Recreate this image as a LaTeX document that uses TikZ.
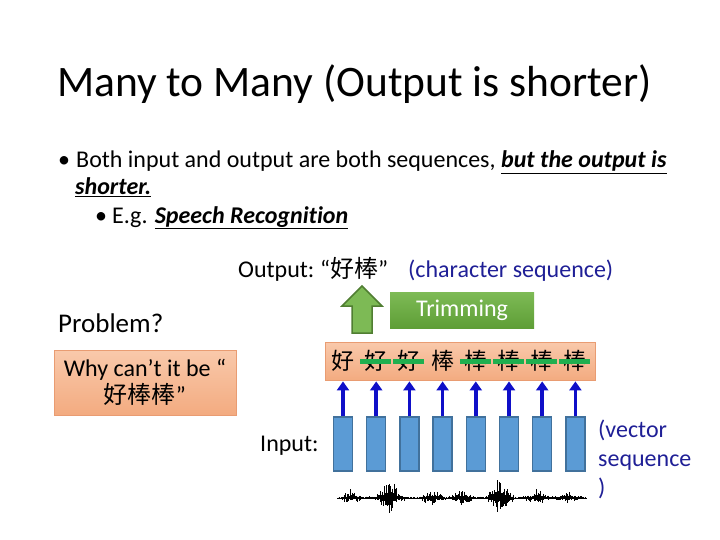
\documentclass[tikz,border=0pt]{standalone}
\usepackage{fontspec}
\setmainfont{Carlito}[Ligatures=NoCommon]
\newfontfamily\cjk{Noto Sans CJK TC}
\usetikzlibrary{arrows.meta}
\definecolor{navytxt}{RGB}{31,31,150}
\definecolor{seqtop}{HTML}{F9C9AB}
\definecolor{seqbot}{HTML}{F3AB80}
\definecolor{seqline}{HTML}{E99C72}
\definecolor{trimtop}{HTML}{7DBA55}
\definecolor{trimbot}{HTML}{5E9E36}
\definecolor{trimline}{HTML}{507E32}
\definecolor{vecfill}{HTML}{5B9BD5}
\definecolor{vecline}{HTML}{41719C}
\definecolor{upblue}{RGB}{15,15,200}
\definecolor{cutgreen}{HTML}{1FAF4F}

\begin{document}
\begin{tikzpicture}[x=1pt,y=-1pt,
    txt/.style={anchor=base west,inner sep=0pt,font=\fontsize{24}{28}\selectfont},
    orangebox/.style={draw=seqline,line width=0.8pt,top color=seqtop,bottom color=seqbot,inner sep=0pt},
    vecbox/.style={draw=vecline,line width=1.5pt,fill=vecfill,minimum width=19pt,minimum height=54pt,inner sep=0pt},
    uparrow/.style={-{Triangle[width=12pt,length=9pt]},line width=3.5pt,color=upblue,shorten >=1pt},
    cut/.style={line width=5pt,color=cutgreen},
    wave/.style={line width=0.7pt,black}]
    \useasboundingbox (0,0) rectangle (720,540);

    % title and bullets
    \node[txt,font=\fontsize{43.5}{50}\selectfont] (title) at (57,97) {Many to Many (Output is shorter)};
    \node[txt] (b1) at (58,168) {\textbullet};
    \node[txt] (l1) at (76,168) {Both input and output are both sequences, \underline{\textbf{\textit{but the output is}}}};
    \node[txt] (l2) at (75,195) {\underline{\textbf{\textit{shorter.}}}};
    \node[txt] (b2) at (95,223) {\textbullet};
    \node[txt] (l3) at (112,223) {E.g. \underline{\textbf{\textit{Speech Recognition}}}};

    % output
    \node[txt] (out) at (238,277) {Output:};
    \node[txt] (outseq) at (320,277) {“{\cjk 好棒}”};
    \node[txt,text=navytxt] (outnote) at (408,277) {(character sequence)};
    \node[txt,font=\fontsize{27}{30}\selectfont] (prob) at (58,332) {Problem?};
    \node[orangebox,minimum width=182pt,minimum height=65pt,align=center,
          font=\fontsize{24}{27}\selectfont] (why) at (145,382.5) {Why can’t it be “\\{\cjk 好棒棒}”};

    % trimming
    \node[top color=trimtop,bottom color=trimbot,minimum width=144pt,minimum height=35.5pt,
          text=white,font=\fontsize{24}{28}\selectfont] (trim) at (462,310.5) {Trimming};
    \draw[fill=trimtop,draw=trimline,line width=1.5pt,line join=miter]
        (352,333) -- (352,306) -- (342,306) -- (362,286) -- (382,306) -- (372,306) -- (372,333) -- cycle;

    % sequence
    \node[orangebox,minimum width=270pt,minimum height=38pt] (seq) at (460,361) {};
    \foreach \c [count=\i] in {好,好,好,棒,棒,棒,棒,棒}
    \node[inner sep=0pt,font=\cjk\fontsize{23}{23}\selectfont] (c\i) at ({343+33.2*(\i-1)},361) {\c};
    \foreach \i in {2,3,5,6,7,8}
    \draw[cut] ([xshift=-16pt]c\i.center) -- ([xshift=15pt]c\i.center);

    % input vectors
    \foreach \i in {1,...,8}
    \node[vecbox] (r\i) at ({343+33.2*(\i-1)},444) {};
    \foreach \i in {1,...,8}
    \draw[uparrow] (r\i.north) -- (r\i.north |- seq.south);
    \node[txt] (inp) at (260,451) {Input:};
    \node[txt,text=navytxt] (v1) at (598,437) {(vector};
    \node[txt,text=navytxt] (v2) at (598,466) {sequence};
    \node[txt,text=navytxt] (v3) at (598,495) {)};

    % waveform
    \pgfmathsetseed{7}
    \draw[wave] (337,498) -- (587,498);
    \foreach \x in {338,338.6,...,586}{
    \pgfmathsetmacro\env{2+10*max(0,1-abs(\x-352)/11)+22*max(0,1-abs(\x-390)/15)+9*max(0,1-abs(\x-432)/14)+10*max(0,1-abs(\x-462)/13)+21*max(0,1-abs(\x-500)/15)+8*max(0,1-abs(\x-537)/14)+4.5*max(0,1-abs(\x-568)/15)}
    \pgfmathsetmacro\up{\env*(0.15+0.85*rnd*rnd)}
    \pgfmathsetmacro\dn{\env*(0.1+0.75*rnd*rnd)}
    \draw[wave] (\x,498-\up) -- (\x,498+\dn);
    }
\end{tikzpicture}
\end{document}
